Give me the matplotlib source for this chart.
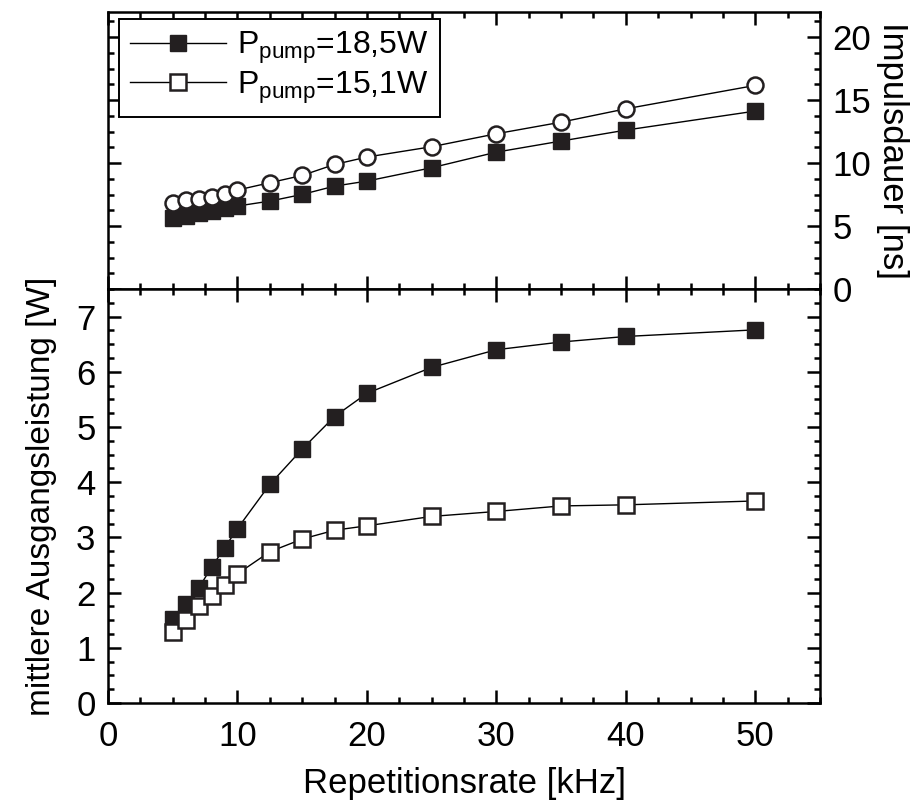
"""
Pulse duration and average output power vs. repetition rate
"""

import matplotlib
matplotlib.use("Agg")

import matplotlib.pyplot as plt
from matplotlib.ticker import MultipleLocator


plt.rcParams["font.family"] = ["Liberation Sans", "DejaVu Sans"]
plt.rcParams["mathtext.fontset"] = "custom"
plt.rcParams["mathtext.rm"] = "Liberation Sans"
plt.rcParams["mathtext.it"] = "Liberation Sans:italic"
plt.rcParams["font.size"] = 25


# repetition rate [kHz]
rate = [5, 6, 7, 8, 9, 10, 12.5, 15, 17.5, 20, 25, 30, 35, 40, 50]

# pulse duration [ns]
pulse_185 = [5.66, 5.79, 6.00, 6.19, 6.40, 6.59, 6.98, 7.51, 8.17, 8.57,
             9.63, 10.87, 11.75, 12.62, 14.13]
pulse_151 = [6.85, 7.04, 7.12, 7.30, 7.56, 7.86, 8.44, 9.02, 9.89, 10.48,
             11.30, 12.33, 13.25, 14.31, 16.17]

# average output power [W]
power_185 = [1.52, 1.80, 2.08, 2.46, 2.81, 3.16, 3.96, 4.60, 5.19, 5.61,
             6.08, 6.40, 6.54, 6.64, 6.76]
power_151 = [1.28, 1.51, 1.75, 1.94, 2.14, 2.34, 2.74, 2.97, 3.13, 3.21,
             3.38, 3.47, 3.57, 3.59, 3.66]

labels = [r"P$_{\rm pump}$=18,5W", r"P$_{\rm pump}$=15,1W"]


def style_axis(ax):

    """
    Frame, inward ticks on all four sides.
    """

    for spine in ax.spines.values():
        spine.set_linewidth(1.8)

    ax.tick_params(which="both", direction="in", width=1.8,
                   top=True, right=True, bottom=True, left=True)
    ax.tick_params(which="major", length=9.5)
    ax.tick_params(which="minor", length=4.5)
    ax.set_xlim(0, 55)
    ax.xaxis.set_major_locator(MultipleLocator(10))
    ax.xaxis.set_minor_locator(MultipleLocator(2.5))


def main():

    fig = plt.figure(figsize=(9.22, 8.07), dpi=100)

    W, H = 922, 807
    left, right = 108, 820
    top_y, mid_y, bot_y = 12, 289, 703

    ax_top = fig.add_axes([left / W, (H - mid_y) / H,
                           (right - left) / W, (mid_y - top_y) / H])
    ax_bot = fig.add_axes([left / W, (H - bot_y) / H,
                           (right - left) / W, (bot_y - mid_y) / H])

    line_kw = dict(color="black", linewidth=1.0, markersize=11.5)

    # top panel: pulse duration
    ax_top.plot(rate, pulse_185, marker="s", markerfacecolor="#231f20",
                markeredgecolor="#231f20", **line_kw)
    ax_top.plot(rate, pulse_151, marker="o", markerfacecolor="white",
                markeredgecolor="#231f20", markeredgewidth=1.8, **line_kw)

    style_axis(ax_top)
    ax_top.set_ylim(0, 22)
    ax_top.yaxis.set_major_locator(MultipleLocator(5))
    ax_top.yaxis.set_minor_locator(MultipleLocator(1.25))
    ax_top.tick_params(labelbottom=False, labelleft=False, labelright=True)
    ax_top.tick_params(axis="y", pad=9)
    ax_top.yaxis.set_label_position("right")
    ax_top.set_ylabel("Impulsdauer [ns]", rotation=270, labelpad=27)

    # bottom panel: average output power
    l1, = ax_bot.plot(rate, power_185, marker="s", markerfacecolor="#231f20",
                      markeredgecolor="#231f20", label=labels[0], **line_kw)
    l2, = ax_bot.plot(rate, power_151, marker="s", markerfacecolor="white",
                      markeredgecolor="#231f20", markeredgewidth=1.8,
                      label=labels[1], **line_kw)

    style_axis(ax_bot)
    ax_bot.set_ylim(0, 7.5)
    ax_bot.yaxis.set_major_locator(MultipleLocator(1))
    ax_bot.yaxis.set_minor_locator(MultipleLocator(0.25))
    ax_bot.tick_params(axis="y", pad=9)
    ax_bot.tick_params(axis="x", pad=12)
    ax_bot.set_xlabel("Repetitionsrate [kHz]", labelpad=10)
    ax_bot.set_ylabel("mittlere Ausgangsleistung [W]", labelpad=14,
                      fontsize=24)

    leg = ax_top.legend(handles=[l1, l2], loc="upper left",
                        bbox_to_anchor=(0.0155, 0.975), borderaxespad=0,
                        fancybox=False, framealpha=1, edgecolor="black",
                        handlelength=3.0, handletextpad=0.35,
                        labelspacing=0.1, borderpad=0.35, fontsize=23)
    leg.get_frame().set_linewidth(1.4)

    fig.savefig("out.png", dpi=100)


if __name__ == "__main__":
    main()
